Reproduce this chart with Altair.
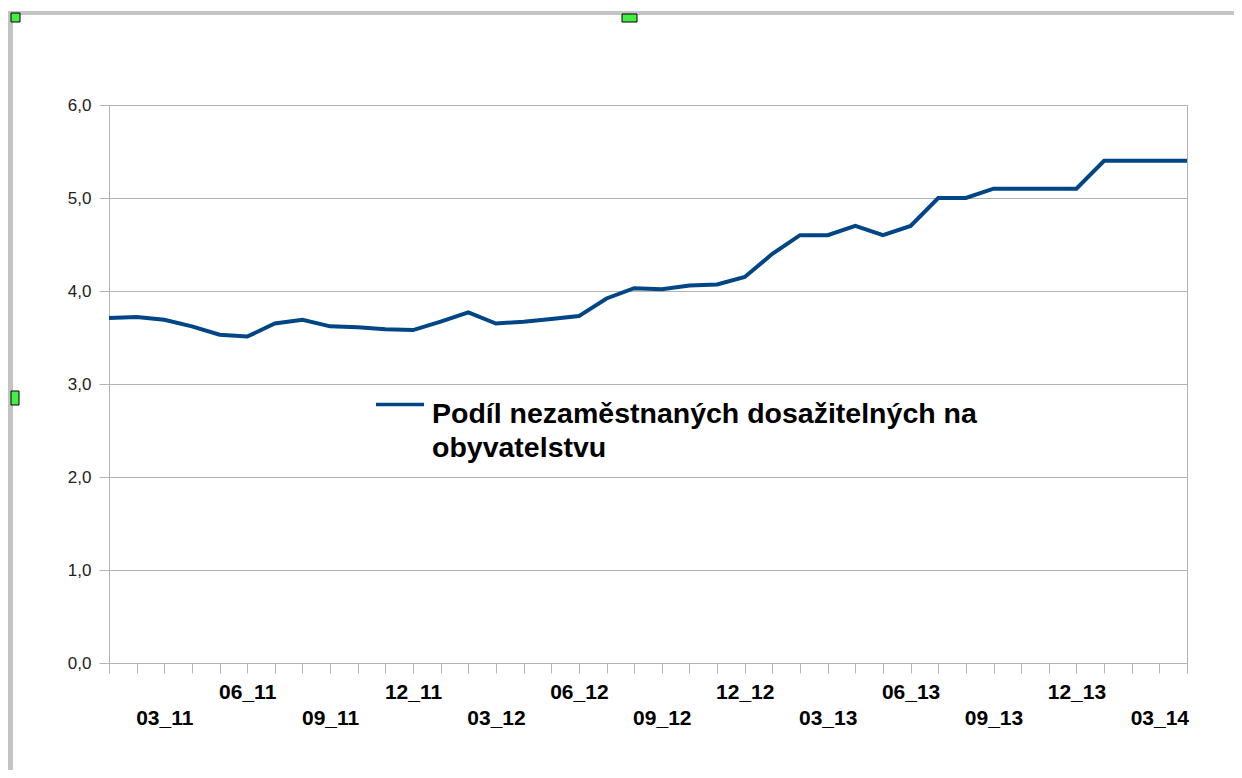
import altair as alt
import pandas as pd

# ---- data ----
months = [
    "01_11", "02_11", "03_11", "04_11", "05_11", "06_11", "07_11", "08_11", "09_11", "10_11", "11_11", "12_11",
    "01_12", "02_12", "03_12", "04_12", "05_12", "06_12", "07_12", "08_12", "09_12", "10_12", "11_12", "12_12",
    "01_13", "02_13", "03_13", "04_13", "05_13", "06_13", "07_13", "08_13", "09_13", "10_13", "11_13", "12_13",
    "01_14", "02_14", "03_14", "04_14",
]
values = [
    3.71, 3.72, 3.69, 3.62, 3.53, 3.51, 3.65, 3.69, 3.62, 3.61, 3.59, 3.58,
    3.67, 3.77, 3.65, 3.67, 3.70, 3.73, 3.92, 4.03, 4.02, 4.06, 4.07, 4.15,
    4.40, 4.60, 4.60, 4.70, 4.60, 4.70, 5.00, 5.00, 5.10, 5.10, 5.10, 5.10,
    5.40, 5.40, 5.40, 5.40,
]
series_name = "Podíl nezaměstnaných dosažitelných na obyvatelstvu"
legend_lines = ["Podíl nezaměstnaných dosažitelných na", "obyvatelstvu"]
y_ticks = [0, 1, 2, 3, 4, 5, 6]

df = pd.DataFrame({"month": months, "value": values, "series": [series_name] * len(months)})

W, H = 1078, 558
GRID = "#b3b3b3"
FONT = "Liberation Sans"

lower_row = "substring(datum.value,0,2)=='03' || substring(datum.value,0,2)=='09'"

line = alt.Chart(df).mark_line(strokeWidth=4, clip=False).encode(
    x=alt.X(
        "month:O",
        sort=months,
        scale=alt.Scale(type="point", padding=0),
        axis=alt.Axis(
            title=None,
            labelExpr="indexof(['03','06','09','12'], substring(datum.value,0,2)) >= 0 ? datum.value : ''",
            labelAngle=0,
            labelFont=FONT,
            labelFontWeight="bold",
            labelFontSize=21,
            labelColor="#000000",
            labelOverlap=False,
            labelPadding={"condition": {"test": lower_row, "value": 34}, "value": 8},
            tickColor=GRID,
            tickSize=10,
            domainColor=GRID,
            grid=False,
        ),
    ),
    y=alt.Y(
        "value:Q",
        scale=alt.Scale(domain=[0, 6]),
        axis=alt.Axis(
            title=None,
            values=y_ticks,
            labelExpr="replace(format(datum.value, '.1f'), '.', ',')",
            labelFont=FONT,
            labelFontSize=17,
            labelColor="#222222",
            labelPadding=8,
            tickSize=10,
            tickColor=GRID,
            gridColor=GRID,
            domainColor=GRID,
        ),
    ),
    color=alt.Color(
        "series:N",
        scale=alt.Scale(range=["#004586"]),
        legend=alt.Legend(
            orient="none",
            legendX=265,
            legendY=295,
            padding=0,
            title=legend_lines,
            titleOrient="right",
            titleFont=FONT,
            titleFontSize=28.5,
            titleFontWeight="bold",
            titleColor="#000000",
            titleLineHeight=34,
            titleLimit=2000,
            titleAnchor="start",
            titleBaseline="top",
            titlePadding=1,
            labelExpr="''",
            labelOffset=0,
            symbolType="M-1,-0.9L1,-0.9",
            symbolSize=2304,
            symbolStrokeWidth=3.5,
        ),
    ),
)

one = alt.Data(values=[{}])
frame_top = alt.Chart(one).mark_rule(color="#c4c4c4", strokeWidth=4, clip=False).encode(
    x=alt.value(-101), x2=alt.value(1125), y=alt.value(-92)
)
frame_left = alt.Chart(one).mark_rule(color="#c4c4c4", strokeWidth=5, clip=False).encode(
    x=alt.value(-98.5), y=alt.value(-92), y2=alt.value(665)
)
handles = [
    (-98, -89, -92, -83),
    (513, 528, -91, -83),
    (-98, -90, 286, 300),
]
handle_layers = [
    alt.Chart(one).mark_rect(fill="#44ee44", stroke="#000000", strokeWidth=1, clip=False).encode(
        x=alt.value(a), x2=alt.value(b), y=alt.value(c), y2=alt.value(d)
    )
    for a, b, c, d in handles
]

chart = alt.layer(frame_top, frame_left, *handle_layers, line).properties(
    width=W,
    height=H,
    padding={"left": 101, "top": 97, "right": 47, "bottom": 107},
    autosize=alt.AutoSizeParams(type="none"),
    background="white",
).configure_view(stroke=GRID, strokeWidth=1)

chart.save("out.html", embed_options={"renderer": "svg", "actions": False})
